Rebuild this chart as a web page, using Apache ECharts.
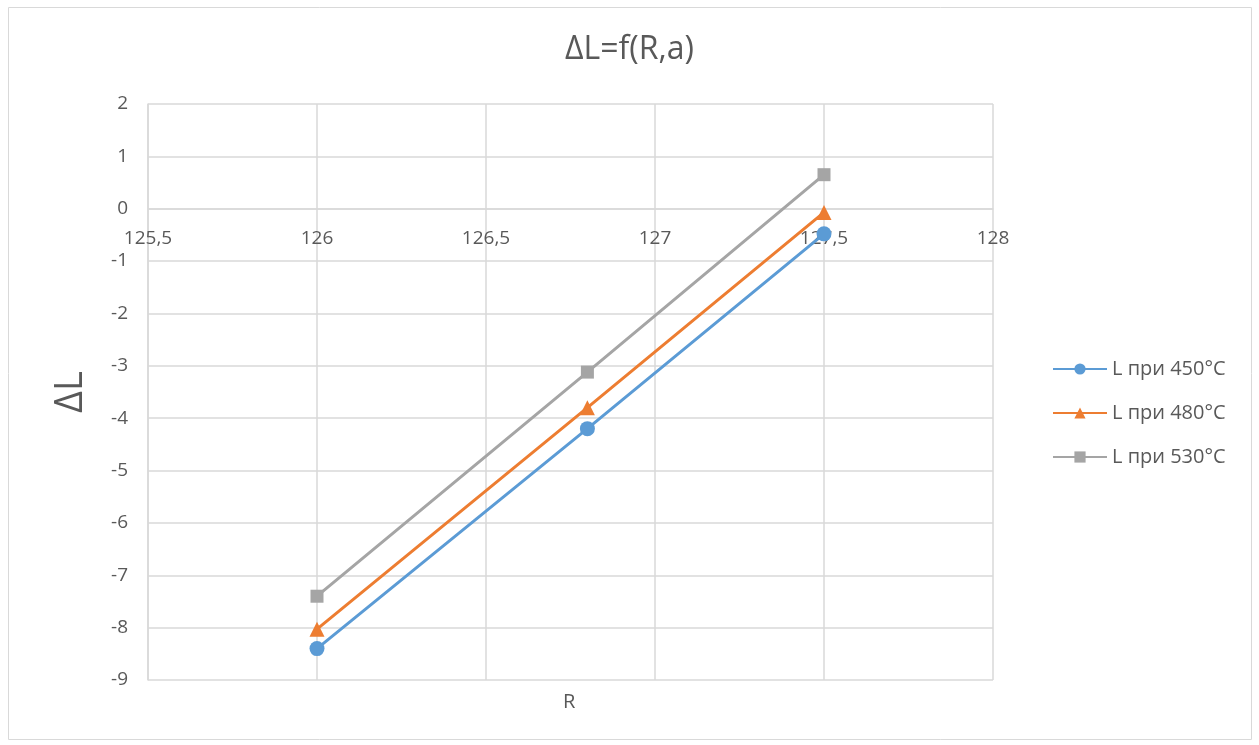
<!DOCTYPE html>
<html>
<head>
<meta charset="utf-8">
<script src="https://cdn.jsdelivr.net/npm/echarts@6/dist/echarts.min.js"></script>
<style>html,body{margin:0;padding:0;background:#fff}#c{width:1259px;height:745px}</style>
</head>
<body>
<div id="c"></div>
<script>
const xValues = [126, 126.8, 127.5];
const seriesNames = ['L при 450°C', 'L при 480°C', 'L при 530°C'];
const s450 = [-8.4, -4.2, -0.48];
const s480 = [-8.03, -3.8, -0.07];
const s530 = [-7.4, -3.12, 0.65];
const xMin = 125.5, xMax = 128, xStep = 0.5;
const yMin = -9, yMax = 2, yStep = 1;
const colors = ['#5B9BD5', '#ED7D31', '#A5A5A5'];
const symbols = ['circle', 'triangle', 'rect'];
const symbolSizes = [15, 15, 13];
const FONT = 'Open Sans';

const allData = [s450, s480, s530];
const W = 1259, H = 745;
const gTop = 104, gBottom = 65, gLeft = 148, gRight = 266;
const plotH = H - gTop - gBottom;
// height of the band between top of plot and y = 0 (used to place the x-axis labels at the zero line)
const zeroBand = plotH * (yMax - 0) / (yMax - yMin);

const chart = echarts.init(document.getElementById('c'), null, {renderer: 'canvas'});
chart.setOption({
  animation: false,
  textStyle: {fontFamily: FONT},
  title: [
    {text: 'ΔL=f(R,a)', left: 'center', top: 29, textStyle: {fontFamily: FONT, fontSize: 32, fontWeight: 'normal', color: '#595959'}}
  ],
  graphic: [
    {type: 'rect', shape: {x: 8.5, y: 7.5, width: 1243, height: 732}, style: {fill: 'none', stroke: '#d9d9d9', lineWidth: 1}, silent: true},
    {type: 'text', x: 563, y: 692, style: {text: 'R', fontSize: 20, fontFamily: FONT, fill: '#595959'}, silent: true}
  ],
  grid: [
    {left: gLeft, right: gRight, top: gTop, bottom: gBottom},
    {left: gLeft, right: gRight, top: gTop, height: zeroBand}
  ],
  legend: {
    orient: 'vertical', left: 1047, top: 354, itemGap: 24, itemWidth: 54, itemHeight: 14,
    textStyle: {fontFamily: FONT, fontSize: 20, color: '#595959'},
    data: seriesNames
  },
  xAxis: [{
    gridIndex: 0, type: 'value', min: xMin, max: xMax, interval: xStep,
    axisLine: {show: false},
    axisTick: {show: false},
    axisLabel: {show: false},
    splitLine: {show: true, lineStyle: {color: '#d9d9d9', width: 1.5}}
  }, {
    gridIndex: 1, type: 'value', min: xMin, max: xMax, interval: xStep, position: 'bottom',
    axisLine: {show: true, onZero: false, lineStyle: {color: '#d9d9d9', width: 1.5}},
    axisTick: {show: false},
    axisLabel: {margin: 20, fontSize: 19, color: '#595959', fontFamily: FONT,
      formatter: v => String(v).replace('.', ',')},
    splitLine: {show: false}
  }],
  yAxis: [{
    gridIndex: 0, type: 'value', min: yMin, max: yMax, interval: yStep,
    name: 'ΔL', nameLocation: 'middle', nameGap: 58, nameRotate: 90,
    nameTextStyle: {fontFamily: FONT, fontSize: 38, color: '#595959'},
    axisLine: {show: true, onZero: false, lineStyle: {color: '#d9d9d9', width: 1.5}},
    axisTick: {show: false},
    axisLabel: {margin: 20, fontSize: 19, color: '#595959', fontFamily: FONT},
    splitLine: {show: true, lineStyle: {color: '#d9d9d9', width: 1.5}}
  }, {
    gridIndex: 1, type: 'value', min: 0, max: yMax, show: false
  }],
  series: allData.map((d, i) => ({
    name: seriesNames[i], type: 'line', xAxisIndex: 0, yAxisIndex: 0,
    data: d.map((y, j) => [xValues[j], y]),
    symbol: symbols[i], symbolSize: symbolSizes[i], showAllSymbol: true,
    lineStyle: {color: colors[i], width: 3},
    itemStyle: {color: colors[i], borderWidth: 0},
    z: 3 + i
  }))
});
</script>
</body>
</html>
